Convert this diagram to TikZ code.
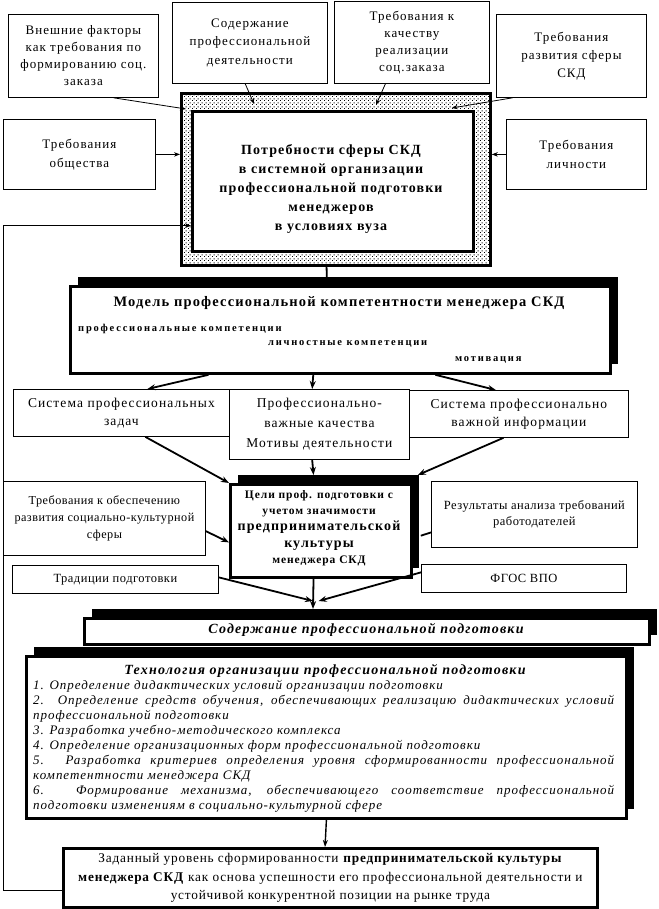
\documentclass[tikz,border=0pt]{standalone}
\usepackage{fontspec}
\setmainfont{Liberation Serif}
\newfontfamily\lsa[LetterSpace=8]{Liberation Serif}
\newfontfamily\lsb[LetterSpace=8]{Liberation Serif}
\newfontfamily\lsc[LetterSpace=4]{Liberation Serif}
\newfontfamily\lsd[LetterSpace=8.5]{Liberation Serif}
\newfontfamily\lse[LetterSpace=7.5]{Liberation Serif}
\newfontfamily\lsf[LetterSpace=6]{Liberation Serif}
\newfontfamily\lsw[LetterSpace=17]{Liberation Serif}
\usetikzlibrary{calc,patterns,arrows.meta,shadows}
\pgfdeclarepatternformonly{mydots}{\pgfpointorigin}{\pgfpoint{4pt}{4pt}}{\pgfpoint{4pt}{4pt}}{%
  \pgfpathrectangle{\pgfpointorigin}{\pgfpoint{1.2pt}{1.2pt}}%
  \pgfpathrectangle{\pgfpoint{2pt}{2pt}}{\pgfpoint{1.2pt}{1.2pt}}%
  \pgfusepath{fill}}
\newcommand\rbox[7][]{\node[#1,anchor=north west,minimum width={(#5-#3)*1pt},minimum height={(#6-#4)*1pt}] (#2) at (#3,#4) {#7};}
\newcommand\fsz[2]{\fontsize{#1}{#2}\selectfont}
\tikzset{
  tbox/.style={draw,line width=0.8pt,fill=white,align=center,inner sep=2pt,font=\lsa\fsz{13}{17}},
  thickbox/.style={draw,line width=2.8pt,fill=white,inner sep=2pt},
  shbox/.style={thickbox,drop shadow={shadow xshift=8pt,shadow yshift=9pt,fill=black,opacity=1}},
  con/.style={line width=0.8pt,-{Stealth[length=6pt,width=4.5pt]}},
  tcon/.style={line width=1.8pt,-{Stealth[length=8pt,width=6pt]}},
}
\begin{document}
\begin{tikzpicture}[x=1pt,y=-1pt]
\useasboundingbox (0,0) rectangle (658,909);
% top boxes
\rbox[tbox]{b1}{8}{14}{158}{97}{Внешние факторы\\как требования по\\формированию соц.\\заказа}
\rbox[tbox,font=\lsa\fsz{13}{18.5}]{b2}{172}{2}{327}{83}{Содержание\\профессиональной\\деятельности}
\rbox[tbox]{b3}{334}{1}{489}{83}{Требования к\\качеству\\реализации\\соц.заказа}
\rbox[tbox,font=\lsa\fsz{13}{18}]{b4}{496}{14}{646}{97}{Требования\\развития сферы\\СКД}
% hatched frame
\rbox[draw,line width=2.8pt,pattern=mydots]{outer}{180}{92}{489}{264}{}
\rbox[thickbox]{need}{191}{110}{472}{250}{}
\node[align=center,font=\lsb\bfseries\fsz{14}{18.8}] (needtext) at (331,189) {Потребности сферы СКД\\в системной организации\\профессиональной подготовки\\менеджеров\\в условиях вуза};
\rbox[tbox,font=\lsa\fsz{13}{19}]{obsh}{3}{119}{155}{189}{Требования\\общества}
\rbox[tbox,font=\lsa\fsz{13}{19}]{lich}{506}{119}{646}{189}{Требования\\личности}
% model
\rbox[shbox]{model}{69}{285}{609}{372}{}
\node[font=\lsb\bfseries\fsz{14.5}{17}] (mtitle) at (339,303) {Модель профессиональной компетентности менеджера СКД};
\node[font=\lsw\bfseries\fsz{10.5}{12},anchor=base west,inner sep=0] (m1) at (78,331) {профессиональные компетенции};
\node[font=\lsw\bfseries\fsz{10.5}{12},anchor=base west,inner sep=0] (m2) at (268,345) {личностные компетенции};
\node[font=\lsw\bfseries\fsz{10.5}{12},anchor=base west,inner sep=0] (m3) at (455,361) {мотивация};
% row
\rbox[tbox,font=\lsa\fsz{13.5}{18}]{r1}{13}{389}{229}{436}{Система профессиональных\\задач}
\rbox[tbox,font=\lsa\fsz{13.5}{20}]{r2}{229}{389}{409}{459}{Профессионально-\\важные качества\\Мотивы деятельности}
\rbox[tbox,font=\lsa\fsz{13.5}{18}]{r3}{409}{390}{628}{437}{Система профессионально\\важной информации}
% goals
\rbox[shbox]{goal}{229}{483}{410}{576}{}
\node[align=center,font=\lsb\bfseries\fsz{13}{16.3}] (goaltext) at (319,528) {{\fsz{11.5}{14}Цели проф. подготовки с}\\{\fsz{11.5}{14}учетом значимости}\\{\fsz{14}{17}предпринимательской}\\{\fsz{14}{17}культуры}\\{\fsz{11.5}{14}менеджера СКД}};
\rbox[tbox,font=\lsc\fsz{12.2}{17}]{soc}{3}{481}{205}{555}{Требования к обеспечению\\развития социально-культурной\\сферы}
\rbox[tbox,font=\lsc\fsz{12.5}{16}]{emp}{431}{481}{637}{547}{Результаты анализа требований\\работодателей}
\rbox[tbox,font=\lsc\fsz{12.5}{16}]{trad}{12}{565}{218}{593}{Традиции подготовки}
\rbox[tbox,font=\lsc\fsz{12.5}{16}]{fgos}{421}{564}{626}{592}{ФГОС ВПО}
% content
\rbox[shbox]{cont}{83}{617}{648}{643}{}
\node[font=\lsd\bfseries\itshape\fsz{14}{16}] (conttext) at (366,630) {Содержание профессиональной подготовки};
% technology
\rbox[shbox]{tech}{25}{655}{625}{817}{}
\node[font=\lsd\bfseries\itshape\fsz{14}{16}] (techtitle) at (325,671) {Технология организации профессиональной подготовки};
\node[anchor=north west,text width=581pt,align=justify,inner sep=0pt,font=\lse\itshape\fsz{13}{15}] (techitems) at (33,680) {\parindent=0pt
1. Определение дидактических условий организации подготовки\par
2. Определение средств обучения, обеспечивающих реализацию дидактических условий\linebreak
профессиональной подготовки\par
3. Разработка учебно-методического комплекса\par
4. Определение организационных форм профессиональной подготовки\par
5. Разработка критериев определения уровня сформированности профессиональной\linebreak
компетентности менеджера СКД\par
6. Формирование механизма, обеспечивающего соответствие профессиональной\linebreak
подготовки изменениям в социально-культурной сфере\par};
% final
\rbox[thickbox,align=center,font=\lsf\fsz{13.3}{18.5}]{final}{62}{847}{596}{906}{Заданный уровень сформированности \textbf{предпринимательской культуры}\\\textbf{менеджера СКД} как основа успешности его профессиональной деятельности и\\устойчивой конкурентной позиции на рынке труда}
% connectors top
\draw[con] ($(b1.south west)!0.70!(b1.south east)$) -- ($(outer.north west)+(6,17)$);
\draw[con] ($(b2.south west)!0.47!(b2.south east)$) -- ($(outer.north west)+(74,12)$);
\draw[con] ($(b3.south west)!0.33!(b3.south east)$) -- ($(outer.north west)+(196,13)$);
\draw[con] ($(b4.south west)!0.11!(b4.south east)$) -- ($(outer.north east)+(-40,16)$);
\draw[con] (obsh.east) -- (obsh.east -| outer.west);
\draw[con] (lich.west) -- (lich.west -| outer.east);
\draw[con] ($(final.south west)!0.3!(final.north west)$) -- ++(-59,0) |- ($(need.north west)!0.81!(need.south west)$);
\draw[line width=1.8pt] ($(outer.south west)!0.47!(outer.south east)$) -- ($(model.north west)!0.475!(model.north east)+(0,-8)$);
% model to row
\draw[tcon] ($(model.south west)!0.257!(model.south east)$) -- ($(r1.north west)!0.62!(r1.north east)$);
\draw[tcon] ($(model.south west)!0.45!(model.south east)$) -- ($(r2.north west)!0.46!(r2.north east)$);
\draw[tcon] ($(model.south west)!0.675!(model.south east)$) -- ($(r3.north west)!0.395!(r3.north east)$);
% row to goal
\draw[tcon] ($(r1.south west)!0.61!(r1.south east)$) -- (goal.north west);
\draw[tcon] ($(r2.south west)!0.46!(r2.south east)$) -- ($(goal.north west)!0.46!(goal.north east)+(0,-8)$);
\draw[tcon] ($(r3.south west)!0.43!(r3.south east)$) -- ($(goal.north east)+(5,-8)$);
\draw[tcon] ($(soc.south east)!0.33!(soc.north east)$) -- ($(goal.north west)!0.62!(goal.south west)$);
\draw[line width=1.8pt] ($(emp.south west)!0.23!(emp.north west)$) -- ($(goal.north east)!0.55!(goal.south east)+(8,0)$);
% to content
\draw[tcon] ($(trad.south east)!0.57!(trad.north east)$) -- ($(cont.north west)!0.405!(cont.north east)+(0,-16)$);
\draw[tcon] ($(fgos.north west)!0.29!(fgos.south west)$) -- ($(cont.north west)!0.415!(cont.north east)+(0,-16)$);
\draw[tcon] ($(goal.south west)!0.46!(goal.south east)$) -- ($(cont.north west)!0.405!(cont.north east)+(0,-8)$);
\draw[line width=1.4pt,-{Stealth[length=7pt,width=5pt]}] ($(tech.south west)!0.5!(tech.south east)$) -- ($(final.north west)!0.49!(final.north east)$);
\end{tikzpicture}
\end{document}
